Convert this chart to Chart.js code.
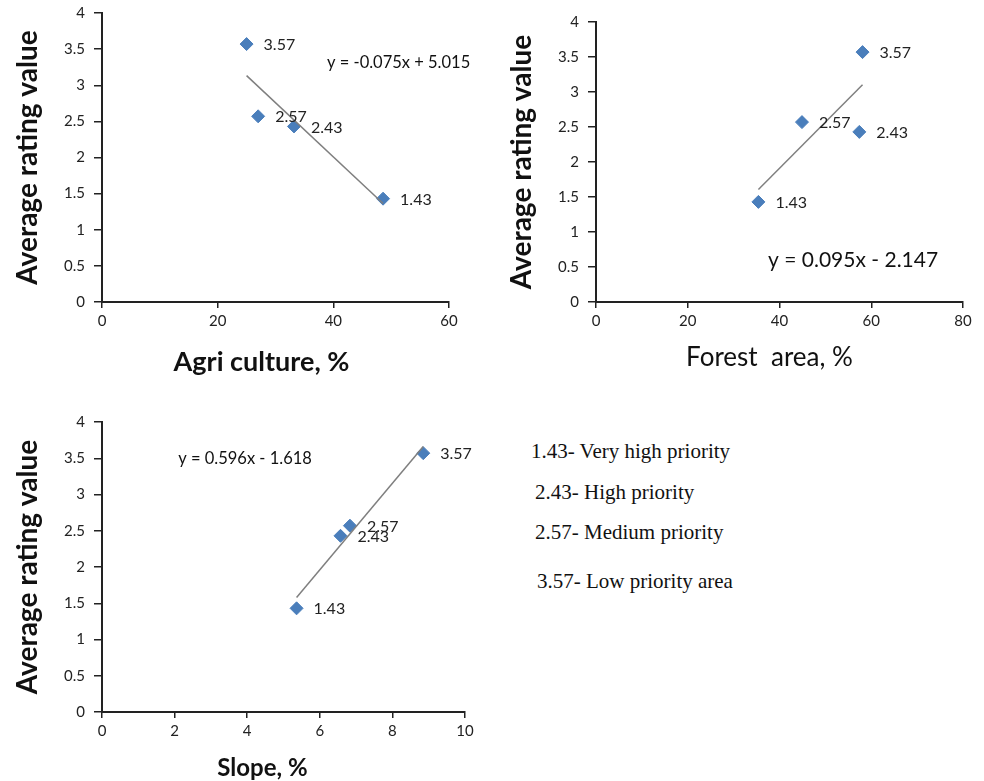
<!DOCTYPE html>
<html>
<head>
<meta charset="utf-8">
<script src="https://cdn.jsdelivr.net/npm/chart.js@4.4.0/dist/chart.umd.min.js"></script>
<style>
  body { margin: 0; background: #fff; width: 984px; height: 781px; overflow: hidden; position: relative; }
  canvas { position: absolute; }
  .key { position: absolute; font-family: "Liberation Serif", "DejaVu Serif", serif; font-size: 21px; color: #111; white-space: nowrap; line-height: 1; }
</style>
</head>
<body>
<canvas id="agri" style="left:0;top:0" width="480" height="375"></canvas>
<canvas id="forest" style="left:494px;top:0" width="490" height="375"></canvas>
<canvas id="slope" style="left:0;top:410px" width="480" height="371"></canvas>

<div class="key" style="left:531px;top:441px">1.43- Very high priority</div>
<div class="key" style="left:535px;top:482px">2.43- High priority</div>
<div class="key" style="left:535px;top:522px">2.57- Medium priority</div>
<div class="key" style="left:537px;top:571px">3.57- Low priority area</div>

<script>
// values
const ratings = [3.57, 2.57, 2.43, 1.43];
const agriculturePct = [25.0, 27.0, 33.2, 48.6];
const forestPct = [58.1, 44.9, 57.4, 35.4];
const slopePct = [8.85, 6.83, 6.57, 5.36];

const equations = ['y = -0.075x + 5.015', 'y = 0.095x - 2.147', 'y = 0.596x - 1.618'];
// where each equation sits, in data units of its chart
const equationAt = [[38.9, 3.31], [37.5, 0.6], [2.1, 3.5]];

const blue = '#4A7EBB';
const ink = '#222';
const font = 'Lato, "Open Sans", sans-serif';

// least squares line over the data, drawn from min x to max x
function trend(xs, ys) {
  const n = xs.length;
  const mx = xs.reduce((a, b) => a + b, 0) / n;
  const my = ys.reduce((a, b) => a + b, 0) / n;
  let sxy = 0, sxx = 0;
  xs.forEach((x, i) => { sxy += (x - mx) * (ys[i] - my); sxx += (x - mx) * (x - mx); });
  const k = sxy / sxx, b = my - k * mx;
  const lo = Math.min(...xs), hi = Math.max(...xs);
  return [{ x: lo, y: k * lo + b }, { x: hi, y: k * hi + b }];
}

const labelsPlugin = {
  id: 'pointLabels',
  afterDatasetsDraw(chart, args, opts) {
    const { ctx, scales, chartArea } = chart;
    const meta = chart.getDatasetMeta(1);
    ctx.save();
    ctx.font = '16px ' + font;
    ctx.fillStyle = '#222';
    ctx.textBaseline = 'middle';
    ctx.textAlign = 'left';
    meta.data.forEach((pt, i) => {
      ctx.fillText(ratings[i].toFixed(2), pt.x + 17, pt.y + 1);
    });
    ctx.font = opts.eqSize + 'px ' + font;
    ctx.fillStyle = '#111';
    ctx.fillText(opts.eq, scales.x.getPixelForValue(opts.eqAt[0]), scales.y.getPixelForValue(opts.eqAt[1]));

    // x axis title, sits a bit left of the plot centre like the original
    ctx.font = opts.title.weight + ' ' + opts.title.size + 'px ' + font;
    ctx.textAlign = 'center';
    ctx.fillText(opts.title.text, (chartArea.left + chartArea.right) / 2 + opts.title.shift, chart.height - opts.title.fromBottom);
    ctx.restore();
  }
};

function makeChart(id, xs, xMax, xStep, title, pad, axisH, eqIdx, eqSize) {
  const points = xs.map((x, i) => ({ x: x, y: ratings[i] }));
  return new Chart(document.getElementById(id), {
    type: 'scatter',
    data: {
      datasets: [
        {
          type: 'line',
          data: trend(xs, ratings),
          borderColor: '#7f7f7f',
          borderWidth: 1.5,
          pointRadius: 0,
          fill: false
        },
        {
          data: points,
          pointStyle: 'rectRot',
          pointRadius: 6.5,
          backgroundColor: blue,
          borderColor: blue,
          borderWidth: 1
        }
      ]
    },
    options: {
      responsive: false,
      animation: false,
      layout: { padding: { top: pad.top, right: pad.right, left: 0, bottom: 0 } },
      plugins: {
        legend: { display: false },
        tooltip: { enabled: false },
        pointLabels: { eq: equations[eqIdx], eqAt: equationAt[eqIdx], eqSize: eqSize, title: title }
      },
      scales: {
        x: {
          type: 'linear',
          min: 0,
          max: xMax,
          ticks: { stepSize: xStep, color: ink, font: { family: font, size: 15 }, padding: 4 },
          grid: { drawOnChartArea: false, color: '#222', tickLength: 6, lineWidth: 1.5 },
          border: { color: '#222', width: 2 },
          title: { display: false },
          afterFit(scale) { scale.height = axisH; }
        },
        y: {
          min: 0,
          max: 4,
          ticks: { stepSize: 0.5, color: ink, font: { family: font, size: 15 }, padding: 9, callback: (v) => String(v) },
          grid: { drawOnChartArea: false, color: '#222', tickLength: 8, lineWidth: 1.5 },
          border: { color: '#222', width: 2 },
          title: {
            display: true,
            text: 'Average rating value',
            color: '#111',
            font: { family: font, size: 28, weight: 'bold' },
            padding: { top: 11, bottom: 0 }
          },
          afterFit(scale) {
            scale.width = 102;
            // the tick padding should not push the plot down
            scale.paddingTop = 0;
            scale.paddingBottom = 0;
          }
        }
      }
    },
    plugins: [labelsPlugin]
  });
}

makeChart('agri', agriculturePct, 60, 20,
  { text: 'Agri culture, %', weight: 'bold', size: 27, shift: -14, fromBottom: 13 },
  { top: 13, right: 31 }, 73, 0, 16.5);
makeChart('forest', forestPct, 80, 20,
  { text: 'Forest  area, %', weight: 'normal', size: 26, shift: -10, fromBottom: 17 },
  { top: 22, right: 21 }, 73, 1, 21);
makeChart('slope', slopePct, 10, 2,
  { text: 'Slope, %', weight: 'bold', size: 24, shift: -21, fromBottom: 13 },
  { top: 12, right: 15 }, 69, 2, 16.5);
</script>
</body>
</html>
